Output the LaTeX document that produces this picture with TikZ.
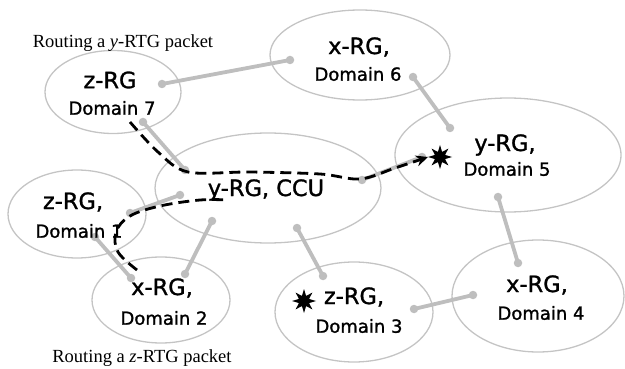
\documentclass[tikz,border=0pt]{standalone}
\usepackage{fontspec}
\setmainfont{DejaVu Sans}[RawFeature={embolden=1.3}]
\newfontfamily\capfont{Liberation Serif}
\usetikzlibrary{shapes.geometric,arrows.meta}
\definecolor{eg}{RGB}{196,196,196}
\definecolor{lg}{RGB}{190,190,190}
\tikzset{
 dom/.style={draw=eg, line width=1.3pt, ellipse, inner sep=0pt},
 hd/.style={font=\fontsize{22.5}{22.5}\selectfont, inner sep=0pt},
 dl/.style={font=\fontsize{18}{18}\selectfont, inner sep=0pt},
 captext/.style={font=\capfont\fontsize{18.5}{18.5}\selectfont, inner sep=0pt},
 link/.style={draw=lg, line width=3.8pt},
 dot/.style={circle, fill=lg, minimum size=8.5pt, inner sep=0pt},
 route/.style={draw=black, line width=2.8pt, dash pattern=on 11pt off 6pt},
 burst/.style={star, star points=8, star point ratio=2.2, fill=black, minimum size=24pt, inner sep=0pt},
}
\begin{document}
\begin{tikzpicture}[x=1pt,y=-1pt]
\useasboundingbox (0,0) rectangle (625,369);
% domains
\node[dom, minimum width=136pt, minimum height=83pt] (d7) at (113,92) {};
\node[dom, minimum width=180pt, minimum height=90pt] (d6) at (360,55) {};
\node[dom, minimum width=226pt, minimum height=114pt] (d5) at (508,155) {};
\node[dom, minimum width=226pt, minimum height=110pt] (ccu) at (268,188) {};
\node[dom, minimum width=138pt, minimum height=88pt] (d1) at (77,214) {};
\node[dom, minimum width=138pt, minimum height=86pt] (d2) at (161,300) {};
\node[dom, minimum width=158pt, minimum height=100pt] (d3) at (354,312) {};
\node[dom, minimum width=172pt, minimum height=112pt] (d4) at (538,296) {};
% link end points
\node[dot] (l76a) at (162,84) {}; \node[dot] (l76b) at (290,60) {};
\node[dot] (l7ca) at (143,122) {}; \node[dot] (l7cb) at (185,170) {};
\node[dot] (l65a) at (413,77) {}; \node[dot] (l65b) at (450,128) {};
\node[dot] (l54a) at (498,197) {}; \node[dot] (l54b) at (518,263) {};
\node[dot] (l34a) at (414,309) {}; \node[dot] (l34b) at (473,295) {};
\node[dot] (lc3a) at (297,228) {}; \node[dot] (lc3b) at (323,276) {};
\node[dot] (lc2a) at (212,221) {}; \node[dot] (lc2b) at (185,274) {};
\node[dot] (l12a) at (95,237) {}; \node[dot] (l12b) at (131,278) {};
\node[dot] (l1ca) at (130,213) {}; \node[dot] (l1cb) at (180,195) {};
\node[dot] (lc5a) at (362,180) {}; \node[dot] (lc5b) at (422,157) {};
\draw[link] (l76a.center) -- (l76b.center);
\draw[link] (l7ca.center) -- (l7cb.center);
\draw[link] (l65a.center) -- (l65b.center);
\draw[link] (l54a.center) -- (l54b.center);
\draw[link] (l34a.center) -- (l34b.center);
\draw[link] (lc3a.center) -- (lc3b.center);
\draw[link] (lc2a.center) -- (lc2b.center);
\draw[link] (l12a.center) -- (l12b.center);
\draw[link] (l1ca.center) -- (l1cb.center);
\draw[link] (lc5a.center) -- (lc5b.center);
% routes
\coordinate (ys) at (130,122);
\coordinate (ye) at (428,157);
\draw[route, -{Stealth[length=12pt,width=11pt]}] plot[smooth, tension=0.55] coordinates {(ys) (158,152) (188,172) (250,172) (320,174) (360,179) (395,168) (ye)};
\coordinate (zs) at (137,270);
\coordinate (ze) at (228,200);
\draw[route] plot[smooth, tension=0.6] coordinates {(zs) (118,252) (116,232) (130,216) (160,206) (200,200) (ze)};
% stars
\node[burst] (s5) at (440,157) {};
\node[burst] (s3) at (304,301) {};
% labels
\node[hd] (t7a) at (110,80) {z-RG};
\node[dl] (t7b) at (112,108) {Domain 7};
\node[hd] (t6a) at (359,47) {x-RG,};
\node[dl] (t6b) at (358,74) {Domain 6};
\node[hd] (t5a) at (505,145) {y-RG,};
\node[dl] (t5b) at (507,169) {Domain 5};
\node[hd] (tc) at (266,190) {y-RG, CCU};
\node[hd] (t1a) at (73,202) {z-RG,};
\node[dl] (t1b) at (79,231) {Domain 1};
\node[hd] (t2a) at (162,288) {x-RG,};
\node[dl] (t2b) at (164,318) {Domain 2};
\node[hd] (t3a) at (354,297) {z-RG,};
\node[dl] (t3b) at (359,326) {Domain 3};
\node[hd] (t4a) at (537,285) {x-RG,};
\node[dl] (t4b) at (541,313) {Domain 4};
\node[captext] (c1) at (123,43) {Routing a \textit{y}-RTG packet};
\node[captext] (c2) at (142,358) {Routing a \textit{z}-RTG packet};
\end{tikzpicture}
\end{document}
